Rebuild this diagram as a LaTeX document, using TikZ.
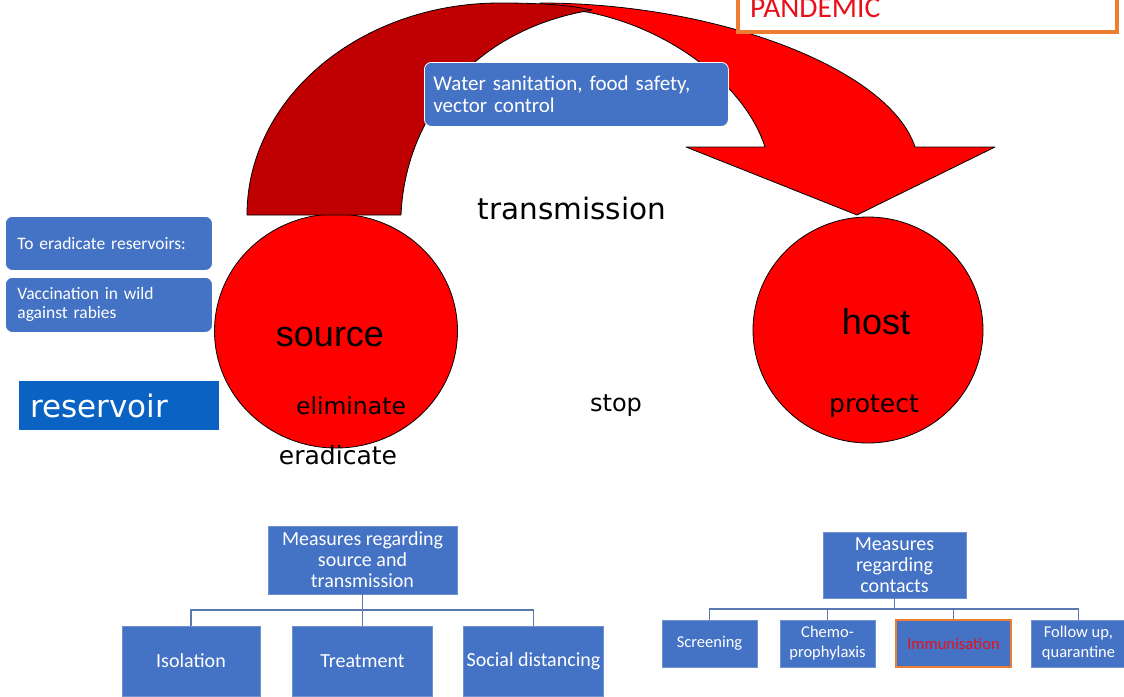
\documentclass[tikz,border=0pt]{standalone}
\usepackage{fontspec}
\setmainfont{Carlito}
\newfontfamily\arialf{Liberation Sans}
\newfontfamily\comicf{DejaVu Sans}
\usetikzlibrary{shapes.geometric}
\definecolor{boxblue}{HTML}{4472C4}
\definecolor{boxedge}{HTML}{7090CE}
\definecolor{resblue}{HTML}{0A63C3}
\definecolor{connc}{HTML}{5A78B0}
\definecolor{arrdark}{HTML}{C00000}
\definecolor{arrbright}{HTML}{FF0000}
\definecolor{pandor}{HTML}{ED7D31}
\definecolor{pandred}{HTML}{E8101A}
\begin{document}
\begin{tikzpicture}[x=1pt,y=-1pt,
  bbox/.style={draw=boxedge, fill=boxblue, text=white, line width=0.8pt, inner sep=1pt, align=center},
  rbox/.style={draw=white, fill=boxblue, text=white, rounded corners=7pt, line width=0.8pt, align=left, anchor=north west, inner ysep=0pt},
  conn/.style={draw=connc, line width=1.6pt},
  comic/.style={font=\comicf\fontsize{#1}{#1}\selectfont, inner sep=0pt},
  bigsans/.style={font=\arialf\fontsize{36}{36}\selectfont, inner sep=0pt},
  blob/.style={ellipse, draw=black, fill=arrbright, line width=0.8pt, inner sep=0pt},
  arrowpart/.style={draw=black, line width=0.8pt, line join=round}]
\useasboundingbox (0,0) rectangle (1124,696);
\fill[white] (0,0) rectangle (1124,696);

% circles
\node[blob, minimum width=243, minimum height=234] (source) at (336,331) {};
\node[blob, minimum width=230, minimum height=226] (host) at (868,330) {};

% curved arrow: bright front part
\filldraw[arrowpart, fill=arrbright] (540,3) .. controls (720,3) and (890,70) .. (915,147)
  -- (995,147) -- (857,215) -- (686,147) -- (765,147)
  .. controls (745,85) and (670,28) .. (587,12) -- (540,8) -- cycle;
% dark back part
\filldraw[arrowpart, fill=arrdark] (247,215) .. controls (247,98) and (360,3) .. (500,3)
  .. controls (540,3) and (570,5) .. (592,10)
  .. controls (470,30) and (405,120) .. (401,215) -- cycle;

% blue rounded boxes
\node[rbox, minimum height=64, text width=286, inner xsep=9, font=\fontsize{21}{22}\selectfont] (water) at (424,62) {Water sanitation, food safety,\\vector control};
\node[rbox, minimum height=54, text width=183, inner xsep=12, font=\fontsize{17.5}{19}\selectfont] (erad) at (5,216) {To eradicate reservoirs:};
\node[rbox, minimum height=55, text width=183, inner xsep=12, font=\fontsize{17.5}{19}\selectfont] (vacc) at (5,277) {Vaccination in wild\\against rabies};
\node[fill=resblue, anchor=north west, minimum height=49, text width=178, inner xsep=11, inner ysep=0pt, align=left, text=white, font=\comicf\fontsize{31}{31}\selectfont] (res) at (19,381) {reservoir};

% pandemic box
\filldraw[draw=pandor, fill=white, line width=4pt] (737.5,-30) rectangle (1117,32);
\node[anchor=base west, inner sep=0pt, text=pandred, font=\fontsize{29.5}{30}\selectfont] (pand) at (750,17) {PANDEMIC};

% texts
\node[comic=29.5] (trans) at (572,208) {transmission};
\node[bigsans] (srclab) at (330,337) {source};
\node[bigsans] (hostlab) at (876,322) {host};
\node[comic=23.5] (elim) at (351,406) {eliminate};
\node[comic=25] (eradt) at (338,455) {eradicate};
\node[comic=24] (stop) at (616,406) {stop};
\node[comic=25] (prot) at (874,406) {protect};

% left tree
\node[bbox, minimum width=189, minimum height=68, font=\fontsize{20}{21}\selectfont] (rootL) at (362.5,560) {Measures regarding\\source and\\transmission};
\node[bbox, minimum width=138, minimum height=70, font=\fontsize{20}{21}\selectfont] (iso) at (191,661) {Isolation};
\node[bbox, minimum width=140, minimum height=70, font=\fontsize{20}{21}\selectfont] (treat) at (362.5,661) {Treatment};
\node[bbox, minimum width=140, minimum height=70, font=\fontsize{20}{21}\selectfont] (social) at (533.5,661) {Social distancing};
\coordinate (jL) at (362.5,610);
\draw[conn] (rootL.south) -- (jL);
\draw[conn] (jL) -| (iso.north);
\draw[conn] (jL) -- (treat.north);
\draw[conn] (jL) -| (social.north);

% right tree
\node[bbox, minimum width=143, minimum height=66, font=\fontsize{20}{21}\selectfont] (rootR) at (894.5,565) {Measures\\regarding\\contacts};
\node[bbox, minimum width=95, minimum height=47, font=\fontsize{16.5}{20}\selectfont] (scr) at (709.5,643.5) {Screening};
\node[bbox, minimum width=95, minimum height=47, font=\fontsize{16.5}{20}\selectfont] (chemo) at (827.5,643.5) {Chemo-\\prophylaxis};
\node[bbox, draw=pandor, line width=1.6pt, text=pandred, minimum width=115, minimum height=47, font=\fontsize{16.5}{20}\selectfont] (immun) at (953.5,643.5) {Immunisation};
\node[bbox, minimum width=95, minimum height=47, font=\fontsize{16.5}{20}\selectfont] (follow) at (1078.5,643.5) {Follow up,\\quarantine};
\coordinate (jR) at (894.5,609);
\draw[conn] (rootR.south) -- (jR);
\draw[conn] (jR) -| (scr.north);
\draw[conn] (jR) -| (chemo.north);
\draw[conn] (jR) -| (immun.north);
\draw[conn] (jR) -| (follow.north);
\end{tikzpicture}
\end{document}
